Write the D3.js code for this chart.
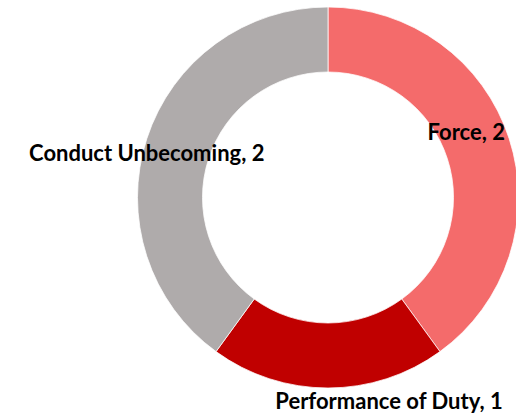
<!DOCTYPE html>
<html>
<head>
<meta charset="utf-8">
<script src="https://cdn.jsdelivr.net/npm/d3@7"></script>
<style>
  html, body { margin: 0; padding: 0; background: #fff; }
  svg { display: block; }
</style>
</head>
<body>
<div id="chart"></div>
<script>
// chart data
var categories = ["Force", "Performance of Duty", "Conduct Unbecoming"];
var counts = [2, 1, 2];
var colors = ["#F46B6B", "#C00000", "#AFABAB"];

var width = 516;
var height = 417;
var cx = 328, cy = 197.5;
var outerR = 190.5, innerR = 125.5;

var svg = d3.select("#chart")
  .append("svg")
  .attr("width", width)
  .attr("height", height);

var data = categories.map(function(c, i) {
  return { name: c, value: counts[i], color: colors[i] };
});

var pie = d3.pie()
  .sort(null)
  .value(function(d) { return d.value; });

var arc = d3.arc()
  .innerRadius(innerR)
  .outerRadius(outerR);

var g = svg.append("g")
  .attr("transform", "translate(" + cx + "," + cy + ")");

var arcs = pie(data);

g.selectAll("path")
  .data(arcs)
  .enter()
  .append("path")
  .attr("d", arc)
  .attr("fill", function(d) { return d.data.color; })
  .attr("stroke", "#fff")
  .attr("stroke-width", 0.75);

// label nudges, roughly where the original placed them
var nudge = [[-12, -14], [61, 48], [-31, 7]];

g.selectAll("text")
  .data(arcs)
  .enter()
  .append("text")
  .attr("x", function(d, i) { return arc.centroid(d)[0] + nudge[i][0]; })
  .attr("y", function(d, i) { return arc.centroid(d)[1] + nudge[i][1]; })
  .attr("text-anchor", "middle")
  .attr("dominant-baseline", "middle")
  .style("font-family", "Lato, 'Open Sans', sans-serif")
  .style("font-weight", "bold")
  .style("font-size", "22px")
  .style("fill", "#000")
  .text(function(d) { return d.data.name + ", " + d.data.value; });
</script>
</body>
</html>
